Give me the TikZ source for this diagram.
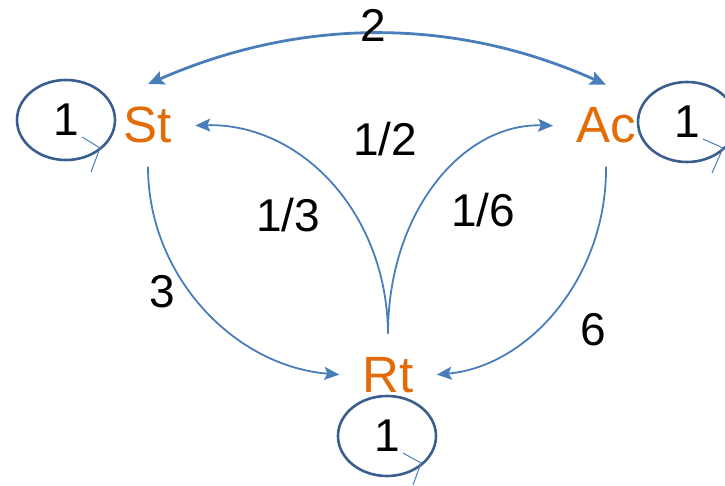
\documentclass[tikz,border=0pt]{standalone}
\usepackage{fontspec}
\setmainfont{Liberation Sans}
\usetikzlibrary{arrows.meta,shapes.geometric,calc}
\definecolor{lineblue}{HTML}{4A7EBB}
\definecolor{ringblue}{HTML}{3A5F8E}
\definecolor{stateorange}{HTML}{E36C09}
\begin{document}
\begin{tikzpicture}[x=1pt,y=-1pt,
  state/.style={text=stateorange,font=\fontsize{51}{56}\selectfont,inner sep=23pt,anchor=base},
  lbl/.style={font=\fontsize{46}{52}\selectfont,inner sep=0pt,anchor=base},
  ring/.style={ellipse,draw=ringblue,line width=2.6pt,minimum width=98pt,minimum height=80pt,inner sep=0pt,font=\fontsize{46}{52}\selectfont},
  edge/.style={draw=lineblue,line width=1.8pt,-{Stealth[length=15pt,width=13pt,inset=3pt]}},
  bigedge/.style={draw=lineblue,line width=2.8pt,{Stealth[length=16pt,width=14pt,inset=3pt]}-{Stealth[length=16pt,width=14pt,inset=3pt]}},
  tick/.style={draw=lineblue,line width=1pt}]
\useasboundingbox (0,0) rectangle (725,486);
\node[state] (St) at (148,143) {St};
\node[state] (Ac) at (606,143) {Ac};
\node[state] (Rt) at (388,392) {Rt};
\node[ring] (L1) at (66,120) {1};
\node[ring] (L2) at (687,122) {1};
\node[ring] (L3) at (387,436) {1};
\draw[tick] ($(L1.center)+(16,17)$) -- ($(L1.center)+(34,28)$) -- ($(L1.center)+(25,52)$);
\draw[tick] ($(L2.center)+(16,17)$) -- ($(L2.center)+(36,26)$) -- ($(L2.center)+(25,51)$);
\draw[tick] ($(L3.center)+(16,17)$) -- ($(L3.center)+(34,27)$) -- ($(L3.center)+(26,49)$);
\draw[bigedge] (St.north) .. controls (301,17) and (455,17) .. (Ac.north);
\draw[edge] (St.south) .. controls (148,276) and (234,366) .. (Rt.west);
\draw[edge] (Ac.south) .. controls (607,276) and (530,366) .. (Rt.east);
\draw[edge] (Rt.north) .. controls (387,213) and (301,123) .. (St.east);
\draw[edge] (Rt.north) .. controls (388,213) and (462,123) .. (Ac.west);
\node[lbl] (w2) at (373,42) {2};
\node[lbl] (w12) at (385,156) {1/2};
\node[lbl] (w13) at (288,232) {1/3};
\node[lbl] (w16) at (483,227) {1/6};
\node[lbl] (w3) at (162,307) {3};
\node[lbl] (w6) at (593,345) {6};
\end{tikzpicture}
\end{document}
